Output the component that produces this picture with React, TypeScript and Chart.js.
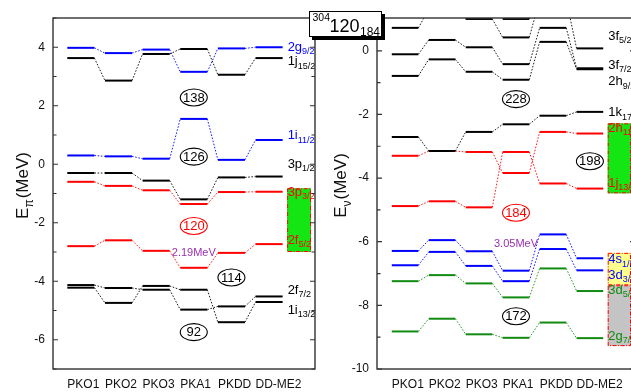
import React, { useEffect, useRef } from "react";
import { Chart, registerables } from "chart.js";
Chart.register(...registerables);

const FONT = 'Arial, "Liberation Sans", Helvetica, sans-serif';
const BLUE = "#0000ff";
const RED = "#ff0000";
const BLACK = "#000000";
const GREEN = "#118a11";

const models = ["PKO1", "PKO2", "PKO3", "PKA1", "PKDD", "DD-ME2"];
const HALF = 0.36;

// ---- proton levels E_pi (MeV) ----
const p_2g92 = [3.98, 3.8, 3.92, 3.16, 3.96, 4.0];
const p_1j152 = [3.63, 2.86, 3.77, 3.94, 3.06, 3.63];
const p_1i112 = [0.3, 0.27, 0.19, 1.55, 0.15, 0.83];
const p_3p12 = [-0.3, -0.3, -0.56, -1.2, -0.45, -0.42];
const p_3p32 = [-0.6, -0.74, -0.89, -1.36, -0.95, -0.94];
const p_2f52 = [-2.8, -2.6, -2.96, -3.54, -3.03, -2.73];
const p_2f72 = [-4.13, -4.23, -4.29, -4.97, -4.86, -4.52];
const p_1i132 = [-4.22, -4.74, -4.16, -4.29, -5.4, -4.71];

const pTicks = [-6, -4, -2, 0, 2, 4];
const pLabelMain = ["2g", "1j", "1i", "3p", "3p", "2f", "2f", "1i"];
const pLabelSub = ["9/2", "15/2", "11/2", "1/2", "3/2", "5/2", "7/2", "13/2"];
const pLabelE = [4.0, 3.5, 0.98, 0.0, -0.96, -2.6, -4.31, -4.99];
const pLabelColor = [BLUE, BLACK, BLUE, BLACK, RED, RED, BLACK, BLACK];
const pMagic = ["138", "126", "120", "114", "92"];
const pMagicAt = [3, 3, 3, 4, 3];
const pMagicE = [2.28, 0.26, -2.11, -3.87, -5.74];
const pMagicColor = [BLACK, BLACK, RED, BLACK, BLACK];
const pGapText = "2.19MeV";
const pGapAt = 3;
const pGapE = -3.03;
const pBoxTop = [-0.82];
const pBoxBottom = [-3.0];
const pBoxFill = ["#14e614"];

// ---- neutron levels E_nu (MeV) ----
const n_3f52 = [0.72, 1.3, 1.0, 0.42, 1.6, 0.075];
const n_3f72 = [-0.11, 0.34, 0.11, -0.42, 0.72, -0.55];
const n_2h92 = [-0.79, -0.27, -0.66, -0.91, 0.28, -0.58];
const n_high = [1.6, 1.7, 1.5, 1.0, 1.5, 1.4];
const n_1k172 = [-2.71, -3.15, -2.55, -2.31, -2.04, -1.92];
const n_2h112 = [-3.3, -3.15, -3.18, -3.84, -2.55, -2.6];
const n_1j132 = [-4.88, -4.73, -4.92, -3.18, -4.17, -4.33];
const n_4s12 = [-6.29, -5.95, -6.3, -6.91, -5.77, -6.52];
const n_3d32 = [-6.74, -6.32, -6.76, -7.24, -6.23, -6.9];
const n_3d52 = [-7.24, -7.05, -7.31, -7.75, -6.84, -7.55];
const n_2g72 = [-8.82, -8.42, -8.91, -9.02, -8.54, -9.03];

const nTicks = [-10, -8, -6, -4, -2, 0];
const nLabelMain = ["3f", "3f", "2h", "1k", "2h", "1j", "4s", "3d", "3d", "2g"];
const nLabelSub = ["5/2", "7/2", "9/2", "17/2", "11/2", "13/2", "1/2", "3/2", "5/2", "7/2"];
const nLabelE = [0.45, -0.45, -0.97, -1.95, -2.44, -4.17, -6.56, -7.05, -7.53, -8.97];
const nLabelColor = [BLACK, BLACK, BLACK, BLACK, RED, RED, BLUE, BLUE, GREEN, GREEN];
const nMagic = ["228", "198", "184", "172"];
const nMagicAt = [3, 5, 3, 3];
const nMagicE = [-1.52, -3.47, -5.09, -8.34];
const nMagicColor = [BLACK, BLACK, RED, BLACK];
const nGapText = "3.05MeV";
const nGapAt = 3;
const nGapE = -6.06;
const nBoxTop = [-2.28, -6.35, -7.37];
const nBoxBottom = [-4.48, -7.37, -9.28];
const nBoxFill = ["#14e614", "#ffff8c", "#c4c4c4"];

type Level = { values: number[]; color: string };

const protonLevels: Level[] = [
  { values: p_2g92, color: BLUE },
  { values: p_1j152, color: BLACK },
  { values: p_1i112, color: BLUE },
  { values: p_3p12, color: BLACK },
  { values: p_3p32, color: RED },
  { values: p_2f52, color: RED },
  { values: p_2f72, color: BLACK },
  { values: p_1i132, color: BLACK },
];

const neutronLevels: Level[] = [
  { values: n_3f52, color: BLACK },
  { values: n_3f72, color: BLACK },
  { values: n_2h92, color: BLACK },
  { values: n_high, color: BLACK },
  { values: n_1k172, color: BLACK },
  { values: n_2h112, color: RED },
  { values: n_1j132, color: RED },
  { values: n_4s12, color: BLUE },
  { values: n_3d32, color: BLUE },
  { values: n_3d52, color: GREEN },
  { values: n_2g72, color: GREEN },
];

type Panel = {
  levels: Level[];
  xMin: number;
  xMax: number;
  yMin: number;
  yMax: number;
  ticks: number[];
  yAxisWidth: number;
  padRight: number;
  titleSub: string;
  titleX: number;
  labelMain: string[];
  labelSub: string[];
  labelE: number[];
  labelColor: string[];
  magic: string[];
  magicAt: number[];
  magicE: number[];
  magicColor: string[];
  gapText: string;
  gapAt: number;
  gapE: number;
  boxTop: number[];
  boxBottom: number[];
  boxFill: string[];
};

const protonPanel: Panel = {
  levels: protonLevels,
  xMin: -0.74,
  xMax: 6.22,
  yMin: -7,
  yMax: 5,
  ticks: pTicks,
  yAxisWidth: 53,
  padRight: 15,
  titleSub: "π",
  titleX: 28,
  labelMain: pLabelMain,
  labelSub: pLabelSub,
  labelE: pLabelE,
  labelColor: pLabelColor,
  magic: pMagic,
  magicAt: pMagicAt,
  magicE: pMagicE,
  magicColor: pMagicColor,
  gapText: pGapText,
  gapAt: pGapAt,
  gapE: pGapE,
  boxTop: pBoxTop,
  boxBottom: pBoxBottom,
  boxFill: pBoxFill,
};

const neutronPanel: Panel = {
  levels: neutronLevels,
  xMin: -0.76,
  xMax: 6.22,
  yMin: -10,
  yMax: 1.03,
  ticks: nTicks,
  yAxisWidth: 62,
  padRight: 20,
  titleSub: "ν",
  titleX: 31,
  labelMain: nLabelMain,
  labelSub: nLabelSub,
  labelE: nLabelE,
  labelColor: nLabelColor,
  magic: nMagic,
  magicAt: nMagicAt,
  magicE: nMagicE,
  magicColor: nMagicColor,
  gapText: nGapText,
  gapAt: nGapAt,
  gapE: nGapE,
  boxTop: nBoxTop,
  boxBottom: nBoxBottom,
  boxFill: nBoxFill,
};

function levelDatasets(levels: Level[]) {
  return levels.map((l) => ({
    data: l.values.flatMap((v, i) => [
      { x: i - HALF, y: v },
      { x: i + HALF, y: v },
    ]),
    borderColor: l.color,
    backgroundColor: l.color,
    borderWidth: 2,
    pointRadius: 0,
    fill: false,
    tension: 0,
    segment: {
      borderWidth: (c: any) => (c.p0DataIndex % 2 === 1 ? 0.9 : 2),
      borderDash: (c: any) => (c.p0DataIndex % 2 === 1 ? [1.6, 1.6] : []),
    },
  }));
}

function drawSubText(
  ctx: CanvasRenderingContext2D,
  x: number,
  y: number,
  main: string,
  sub: string,
  color: string
) {
  ctx.fillStyle = color;
  ctx.textAlign = "left";
  ctx.textBaseline = "middle";
  ctx.font = `13px ${FONT}`;
  ctx.fillText(main, x, y);
  const w = ctx.measureText(main).width;
  ctx.font = `9px ${FONT}`;
  ctx.fillText(sub, x + w, y + 4.5);
}

function makeDecor(p: Panel) {
  return {
    id: "decor",
    afterDraw(chart: any) {
      const { ctx, chartArea: a } = chart;
      const xs = chart.scales.x;
      const ys = chart.scales.y;
      ctx.save();
      const labelX = xs.getPixelForValue(models.length - 1 + HALF) + 4.5;

      // coloured boxes
      p.boxTop.forEach((t, i) => {
        const y0 = ys.getPixelForValue(t);
        const y1 = ys.getPixelForValue(p.boxBottom[i]);
        const x1 = a.right - 4;
        ctx.fillStyle = p.boxFill[i];
        ctx.fillRect(labelX, y0, x1 - labelX, y1 - y0);
        ctx.strokeStyle = RED;
        ctx.lineWidth = 1;
        ctx.setLineDash([4, 1.5, 1, 1.5]);
        ctx.strokeRect(labelX + 0.5, y0 + 0.5, x1 - labelX - 1, y1 - y0 - 1);
        ctx.setLineDash([]);
      });

      // level labels
      p.labelMain.forEach((m, i) => {
        drawSubText(ctx, labelX + 0.5, ys.getPixelForValue(p.labelE[i]), m, p.labelSub[i], p.labelColor[i]);
      });

      // magic numbers in ellipses
      p.magic.forEach((m, i) => {
        const cx = xs.getPixelForValue(p.magicAt[i]);
        const cy = ys.getPixelForValue(p.magicE[i]);
        ctx.beginPath();
        ctx.ellipse(cx, cy, 13.5, 8.5, 0, 0, Math.PI * 2);
        ctx.fillStyle = "#fff";
        ctx.fill();
        ctx.strokeStyle = p.magicColor[i];
        ctx.lineWidth = 1.1;
        ctx.stroke();
        ctx.fillStyle = p.magicColor[i];
        ctx.font = `13px ${FONT}`;
        ctx.textAlign = "center";
        ctx.textBaseline = "middle";
        ctx.fillText(m, cx, cy + 0.5);
      });

      // gap note
      ctx.fillStyle = "#9a30b0";
      ctx.font = `11px ${FONT}`;
      ctx.textAlign = "center";
      ctx.textBaseline = "middle";
      ctx.fillText(p.gapText, xs.getPixelForValue(p.gapAt), ys.getPixelForValue(p.gapE));

      // frame
      ctx.strokeStyle = "#333";
      ctx.lineWidth = 1.4;
      ctx.strokeRect(a.left, a.top, a.right - a.left, a.bottom - a.top);

      // inward ticks (major + minor)
      ctx.lineWidth = 1.2;
      for (let v = Math.ceil(p.yMin); v <= Math.floor(p.yMax); v++) {
        const major = p.ticks.includes(v);
        const len = major ? 5 : 3.5;
        const py = ys.getPixelForValue(v);
        ctx.beginPath();
        ctx.moveTo(a.left, py);
        ctx.lineTo(a.left + len, py);
        ctx.moveTo(a.right, py);
        ctx.lineTo(a.right - len, py);
        ctx.stroke();
      }

      // y title with subscript
      const cy = (a.top + a.bottom) / 2 - 8;
      ctx.translate(p.titleX, cy);
      ctx.rotate(-Math.PI / 2);
      ctx.fillStyle = "#111";
      ctx.textBaseline = "alphabetic";
      ctx.textAlign = "left";
      const big = `17px ${FONT}`;
      const small = `12px ${FONT}`;
      ctx.font = big;
      const wE = ctx.measureText("E").width;
      const wR = ctx.measureText("(MeV)").width;
      ctx.font = small;
      const wS = ctx.measureText(p.titleSub).width + 1;
      const total = wE + wS + wR;
      let tx = -total / 2;
      ctx.font = big;
      ctx.fillText("E", tx, 0);
      tx += wE;
      ctx.font = small;
      ctx.fillText(p.titleSub, tx, 5);
      tx += wS;
      ctx.font = big;
      ctx.fillText("(MeV)", tx, 0);
      ctx.restore();
    },
  };
}

function buildConfig(p: Panel): any {
  return {
    type: "line",
    data: { datasets: levelDatasets(p.levels) },
    options: {
      animation: false,
      responsive: false,
      maintainAspectRatio: false,
      events: [],
      layout: { padding: { top: 18, right: p.padRight, left: 0, bottom: 0 } },
      plugins: { legend: { display: false }, tooltip: { enabled: false }, title: { display: false } },
      scales: {
        x: {
          type: "linear",
          min: p.xMin,
          max: p.xMax,
          grid: { display: false, drawTicks: false },
          border: { display: false },
          afterBuildTicks: (s: any) => {
            s.ticks = models.map((_, i) => ({ value: i - HALF }));
          },
          afterFit: (s: any) => {
            s.height = 23;
            s.paddingLeft = 0;
            s.paddingRight = 0;
          },
          ticks: {
            autoSkip: false,
            maxRotation: 0,
            minRotation: 0,
            align: "start",
            padding: 8,
            color: "#111",
            font: { family: FONT, size: 12 },
            callback: (_v: any, i: number) => models[i],
          },
        },
        y: {
          type: "linear",
          min: p.yMin,
          max: p.yMax,
          grid: { display: false, drawTicks: false },
          border: { display: false },
          afterBuildTicks: (s: any) => {
            s.ticks = p.ticks.map((v) => ({ value: v }));
          },
          afterFit: (s: any) => {
            s.width = p.yAxisWidth;
            s.paddingTop = 0;
            s.paddingBottom = 0;
          },
          ticks: {
            padding: 8,
            color: "#111",
            font: { family: FONT, size: 12 },
            callback: (v: any) => String(v),
          },
        },
      },
    },
    plugins: [makeDecor(p)],
  };
}

function LevelChart({ panel, left, width }: { panel: Panel; left: number; width: number }) {
  const ref = useRef<HTMLCanvasElement>(null);
  useEffect(() => {
    const chart = new Chart(ref.current as HTMLCanvasElement, buildConfig(panel));
    return () => chart.destroy();
  }, [panel]);
  return (
    <canvas
      ref={ref}
      width={width}
      height={392}
      style={{ position: "absolute", left, top: 0, width, height: 392 }}
    />
  );
}

export default function App() {
  return (
    <div
      style={{
        position: "fixed",
        left: 0,
        top: 0,
        width: 631,
        height: 392,
        overflow: "hidden",
        background: "#fff",
        fontFamily: FONT,
      }}
    >
      <LevelChart panel={protonPanel} left={0} width={330} />
      <LevelChart panel={neutronPanel} left={315} width={340} />
      <div
        style={{
          position: "absolute",
          left: 309,
          top: 11,
          width: 73,
          height: 26,
          boxSizing: "border-box",
          border: "1px solid #000",
          background: "#fff",
          boxShadow: "3px 3px 0 #000",
          color: "#000",
        }}
      >
        <span style={{ position: "absolute", left: 2.5, top: 0, fontSize: 10.5, lineHeight: 1 }}>304</span>
        <span style={{ position: "absolute", left: 19.5, top: 4.5, fontSize: 18, lineHeight: 1 }}>120</span>
        <span style={{ position: "absolute", left: 50, top: 13.5, fontSize: 12, lineHeight: 1 }}>184</span>
      </div>
    </div>
  );
}
